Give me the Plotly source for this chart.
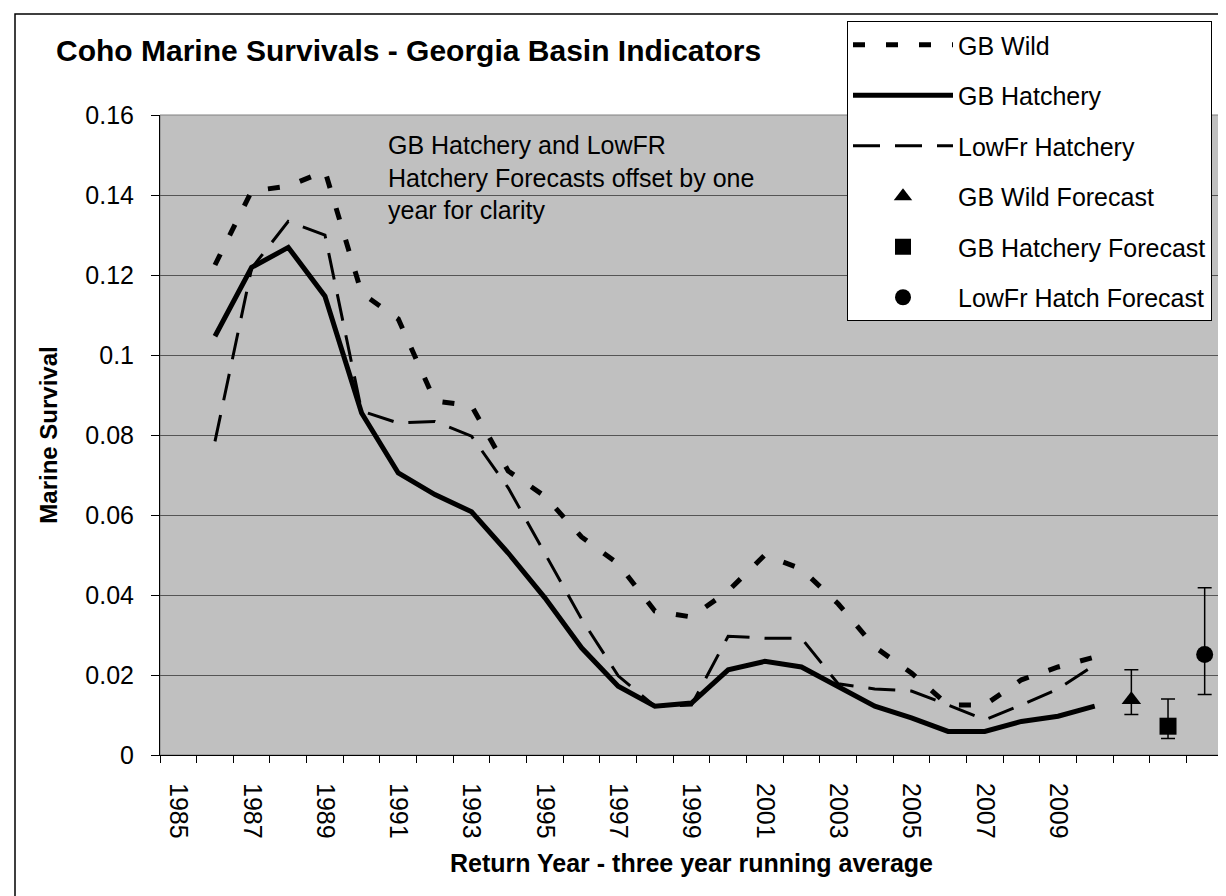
import plotly.graph_objects as go

# Return years (three year running average)
years = list(range(1986, 2011))

gb_wild = [0.1225, 0.141, 0.1422, 0.146, 0.1155, 0.109, 0.0885, 0.0873, 0.071, 0.0647,
           0.0545, 0.0478, 0.036, 0.0345, 0.041, 0.050, 0.0465, 0.0378, 0.027, 0.0205,
           0.0125, 0.0125, 0.0188, 0.022, 0.0245]
gb_hatchery = [0.1047, 0.1219, 0.1269, 0.1147, 0.0855, 0.0705, 0.0651, 0.0608, 0.0505, 0.0393,
               0.0268, 0.0172, 0.0122, 0.013, 0.0213, 0.0234, 0.022, 0.0172, 0.0122, 0.0093,
               0.0059, 0.0059, 0.0084, 0.0097, 0.0122]
lowfr_hatchery = [0.0784, 0.1217, 0.1334, 0.1300, 0.086, 0.083, 0.0834, 0.0797, 0.0668, 0.0505,
                  0.034, 0.0198, 0.0122, 0.0125, 0.0297, 0.0292, 0.0292, 0.0178, 0.0165, 0.016,
                  0.0125, 0.0088, 0.0125, 0.0165, 0.0225]

# Forecasts (GB Hatchery and LowFr offset by one year)
forecast_names = ['GB Wild Forecast', 'GB Hatchery Forecast', 'LowFr Hatch Forecast']
forecast_years = [2011, 2012, 2013]
forecast_values = [0.0138, 0.0072, 0.0251]
forecast_upper = [0.0213, 0.0140, 0.0418]
forecast_lower = [0.0101, 0.0041, 0.0151]
forecast_symbols = ['triangle-up', 'square', 'circle']

label_years = list(range(1985, 2010, 2))

FONT = 'Arial, Liberation Sans, sans-serif'

# plot area in pixels
W, H = 1226, 896
L, R, T, B = 152, 1215, 107, 747


def px_x(p):
    return (p - L) / (R - L)


def px_y(p):
    return (B - p) / (B - T)


fig = go.Figure()

fig.add_trace(go.Scatter(
    x=years, y=gb_wild, name='GB Wild', mode='lines', legendgroup='a',
    line=dict(color='black', width=5, dash='12px,21px')
))
fig.add_trace(go.Scatter(
    x=years, y=gb_hatchery, name='GB Hatchery', mode='lines', legendgroup='b',
    line=dict(color='black', width=5)
))
fig.add_trace(go.Scatter(
    x=years, y=lowfr_hatchery, name='LowFr Hatchery', mode='lines', legendgroup='c',
    line=dict(color='black', width=3, dash='27px,15px')
))

for i, name in enumerate(forecast_names):
    v = forecast_values[i]
    fig.add_trace(go.Scatter(
        x=[forecast_years[i]], y=[v], name=name, mode='markers', legendgroup='d%d' % i,
        marker=dict(symbol=forecast_symbols[i], size=17, color='black'),
        error_y=dict(type='data', symmetric=False,
                     array=[forecast_upper[i] - v], arrayminus=[v - forecast_lower[i]],
                     color='black', thickness=1.5, width=7)
    ))

fig.update_layout(
    width=W, height=H,
    margin=dict(l=L, r=W - R, t=T, b=H - B, autoexpand=False),
    paper_bgcolor='white',
    plot_bgcolor='#C0C0C0',
    font=dict(family=FONT, size=24, color='black'),
    title=dict(text='<b>Coho Marine Survivals - Georgia Basin Indicators</b>',
               x=48 / W, xanchor='left', y=1 - 42 / H, yanchor='middle',
               font=dict(size=30, family=FONT)),
    showlegend=True,
    legend=dict(
        x=px_x(839), y=px_y(13), xanchor='left', yanchor='top',
        bgcolor='white', bordercolor='black', borderwidth=1,
        font=dict(size=25, family=FONT),
        traceorder='grouped', tracegroupgap=15, itemwidth=100
    ),
    xaxis=dict(
        range=[1984.5, 2013.5], tickmode='array', tickvals=label_years,
        ticktext=[str(y) for y in label_years], tickangle=90,
        ticks='', ticklabelstandoff=22, showgrid=False, zeroline=False,
        showline=True, linecolor='black', linewidth=1,
        tickfont=dict(size=25, family=FONT),
        minor=dict(ticks='outside', ticklen=7, tickcolor='black', tick0=1984.5, dtick=1,
                   showgrid=False),
        title=dict(text='<b>Return Year - three year running average</b>',
                   font=dict(size=25, family=FONT), standoff=16)
    ),
    yaxis=dict(
        range=[0, 0.16], dtick=0.02, tick0=0,
        ticks='outside', ticklen=8, tickcolor='black', ticklabelstandoff=12,
        showgrid=True, gridcolor='#555555', gridwidth=1, zeroline=False,
        showline=True, linecolor='black', linewidth=1,
        tickfont=dict(size=25, family=FONT),
        title=dict(text='<b>Marine Survival</b>', font=dict(size=24, family=FONT), standoff=20)
    ),
)

fig.add_annotation(
    xref='paper', yref='paper', x=px_x(378), y=px_y(121), xanchor='left', yanchor='top',
    text='GB Hatchery and LowFR<br>Hatchery Forecasts offset by one<br>year for clarity',
    showarrow=False, align='left', font=dict(size=25, family=FONT)
)

# outer chart frame and plot-area border
fig.add_shape(type='rect', xref='paper', yref='paper',
              x0=px_x(7), x1=px_x(1224), y0=px_y(895), y1=px_y(6),
              line=dict(color='black', width=1.5), fillcolor='rgba(0,0,0,0)', layer='below')
fig.add_shape(type='rect', xref='paper', yref='paper', x0=0, x1=1, y0=0, y1=1,
              line=dict(color='#808080', width=1), fillcolor='rgba(0,0,0,0)', layer='below')

fig.write_html('out.html')
